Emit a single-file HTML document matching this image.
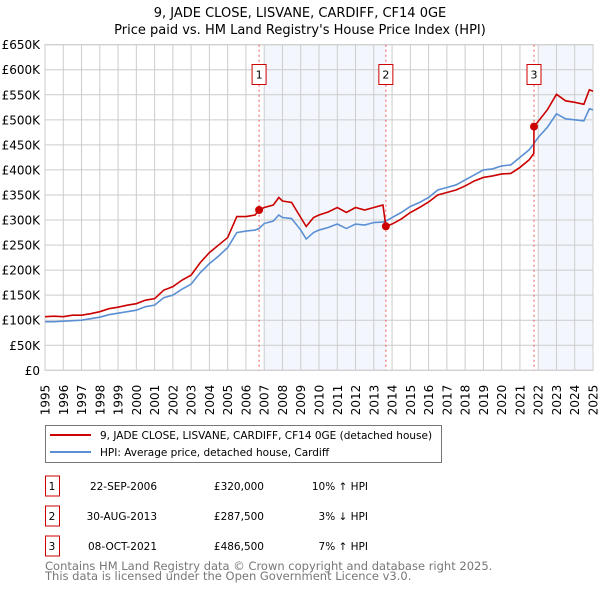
<!DOCTYPE html>
<html><head><meta charset="utf-8"><style>
body{margin:0;background:#fff;}
svg{display:block;font-family:"DejaVu Sans","Liberation Sans",sans-serif;}
</style></head><body>
<svg id="chart" width="600" height="590" viewBox="0 0 600 590" xmlns="http://www.w3.org/2000/svg">
<text x="300" y="17" text-anchor="middle" font-size="13">9, JADE CLOSE, LISVANE, CARDIFF, CF14 0GE</text>
<text x="300" y="34" text-anchor="middle" font-size="13">Price paid vs. HM Land Registry's House Price Index (HPI)</text>
<g id="plot"></g>
<g>
<rect x="45.5" y="425.5" width="396" height="37" fill="#fff" stroke="#777"/>
<line x1="50" y1="435" x2="91" y2="435" stroke="#cc0000" stroke-width="2"/>
<text x="100" y="439" font-size="10.5">9, JADE CLOSE, LISVANE, CARDIFF, CF14 0GE (detached house)</text>
<line x1="50" y1="452" x2="91" y2="452" stroke="#5b8fd4" stroke-width="2"/>
<text x="100" y="456" font-size="10.5">HPI: Average price, detached house, Cardiff</text>
</g>
<g id="table" font-size="10.5"></g>
<text x="45" y="570" font-size="11.5" fill="#777">Contains HM Land Registry data © Crown copyright and database right 2025.</text>
<text x="45" y="580" font-size="11.5" fill="#777">This data is licensed under the Open Government Licence v3.0.</text>
</svg>
<script>
const hpiT=[1995,1995.5,1996,1996.5,1997,1997.5,1998,1998.5,1999,1999.5,2000,2000.5,2001,2001.5,2002,2002.5,2003,2003.5,2004,2004.5,2005,2005.5,2006,2006.5,2006.72,2007,2007.5,2007.8,2008,2008.5,2009,2009.3,2009.7,2010,2010.5,2011,2011.5,2012,2012.5,2013,2013.5,2013.66,2014,2014.5,2015,2015.5,2016,2016.5,2017,2017.5,2018,2018.5,2019,2019.5,2020,2020.5,2021,2021.5,2021.76,2021.77,2022,2022.5,2023,2023.5,2024,2024.5,2024.8,2025];
const hpiValues=[97,97,98,99,100,103,106,111,114,117,120,127,130,145,150,162,172,195,213,228,245,275,278,280,283,293,298,310,305,303,280,262,275,280,285,292,283,292,290,295,296,298,305,315,327,335,345,360,365,370,380,390,400,402,408,410,425,440,452,453,465,485,512,502,500,498,522,520];
const priceValues=[107,108,107,110,110,113,117,123,126,130,133,140,143,160,167,180,190,215,235,250,265,307,307,310,320,325,330,345,338,335,305,287,305,310,316,325,315,325,320,325,330,287.5,292,302,315,325,336,350,355,360,368,378,385,388,392,393,405,420,433,486.5,497,520,551,538,535,531,560,557];
const saleYears=[2006.72,2013.66,2021.77];
const salePrices=[320,287.5,486.5];
const saleLabels=["1","2","3"];
const saleDates=["22-SEP-2006","30-AUG-2013","08-OCT-2021"];
const salePriceText=["£320,000","£287,500","£486,500"];
const saleHpiText=["10% ↑ HPI","3% ↓ HPI","7% ↑ HPI"];
const yTicks=[0,50,100,150,200,250,300,350,400,450,500,550,600,650];
const yTickLabels=["£0","£50K","£100K","£150K","£200K","£250K","£300K","£350K","£400K","£450K","£500K","£550K","£600K","£650K"];
const xTicks=[1995,1996,1997,1998,1999,2000,2001,2002,2003,2004,2005,2006,2007,2008,2009,2010,2011,2012,2013,2014,2015,2016,2017,2018,2019,2020,2021,2022,2023,2024,2025];
const shadeRanges=[[2007,2013.66],[2022,2025]];

const L=45,R=593,T=44.7,B=370.3;
const X=y=>L+(y-1995)/30*(R-L);
const Y=v=>B-v/650*(B-T);
const NS="http://www.w3.org/2000/svg";
const plot=document.getElementById('plot');
function mk(tag,attrs,parent){const e=document.createElementNS(NS,tag);for(const k in attrs)e.setAttribute(k,attrs[k]);(parent||plot).appendChild(e);return e;}

shadeRanges.forEach(r=>{
 const e=mk('rect',{x:X(r[0]),y:T,width:X(r[1])-X(r[0]),height:B-T,fill:'#eef3fc',opacity:0.7});
 
 
});
xTicks.forEach(t=>{
 const g=mk('line',{x1:X(t),x2:X(t),y1:T,y2:B,stroke:'#cccccc','stroke-width':1});
 
 
 const tx=mk('text',{transform:`translate(${X(t)+4.5},${B+45}) rotate(-90)`,'font-size':12});
 tx.textContent=t;
 
 
});
yTicks.forEach((v,i)=>{
 const g=mk('line',{x1:L,x2:R,y1:Y(v),y2:Y(v),stroke:'#cccccc','stroke-width':1});
 
 
 const tx=mk('text',{x:L-5,y:Y(v)+4.5,'text-anchor':'end','font-size':12});
 tx.textContent=yTickLabels[i];
 
 
});
const frame=mk('rect',{x:L,y:T,width:R-L,height:B-T,fill:'none',stroke:'#cccccc'});


saleYears.forEach((s,i)=>{
 const l=mk('line',{x1:X(s),x2:X(s),y1:T,y2:B,stroke:'#ee5555','stroke-width':1,'stroke-dasharray':'2,3'});
 
 
 const b=mk('rect',{x:X(s)-7,y:64.5,width:14,height:20,fill:'#fff',stroke:'#cc0000'});
 
 
 const t=mk('text',{x:X(s),y:78.5,'text-anchor':'middle','font-size':11});
 t.textContent=saleLabels[i];
 
 
});
const hp=mk('polyline',{points:hpiT.map((t,i)=>X(t)+','+Y(hpiValues[i])).join(' '),fill:'none',stroke:'#5b8fd4','stroke-width':1.6});


const pp=mk('polyline',{points:hpiT.map((t,i)=>X(t)+','+Y(priceValues[i])).join(' '),fill:'none',stroke:'#cc0000','stroke-width':1.6});


saleYears.forEach((s,i)=>{
 const c=mk('circle',{cx:X(s),cy:Y(salePrices[i]),r:4,fill:'#cc0000'});
 
 
});
const table=document.getElementById('table');
saleLabels.forEach((lab,i)=>{
 const cy=486+i*30;
 const b=mk('rect',{x:45.5,y:cy-10,width:14,height:20,fill:'#fff',stroke:'#cc0000'},table);
 
 
 const cells=[[52,'middle',lab],[157,'end',saleDates[i]],[264,'end',salePriceText[i]],[368,'end',saleHpiText[i]]];
 cells.forEach((c,j)=>{
  const t=mk('text',{x:c[0],y:cy+4,'text-anchor':c[1]},table);
  t.textContent=c[2];
  
  
 });
});
</script>
</body></html>
